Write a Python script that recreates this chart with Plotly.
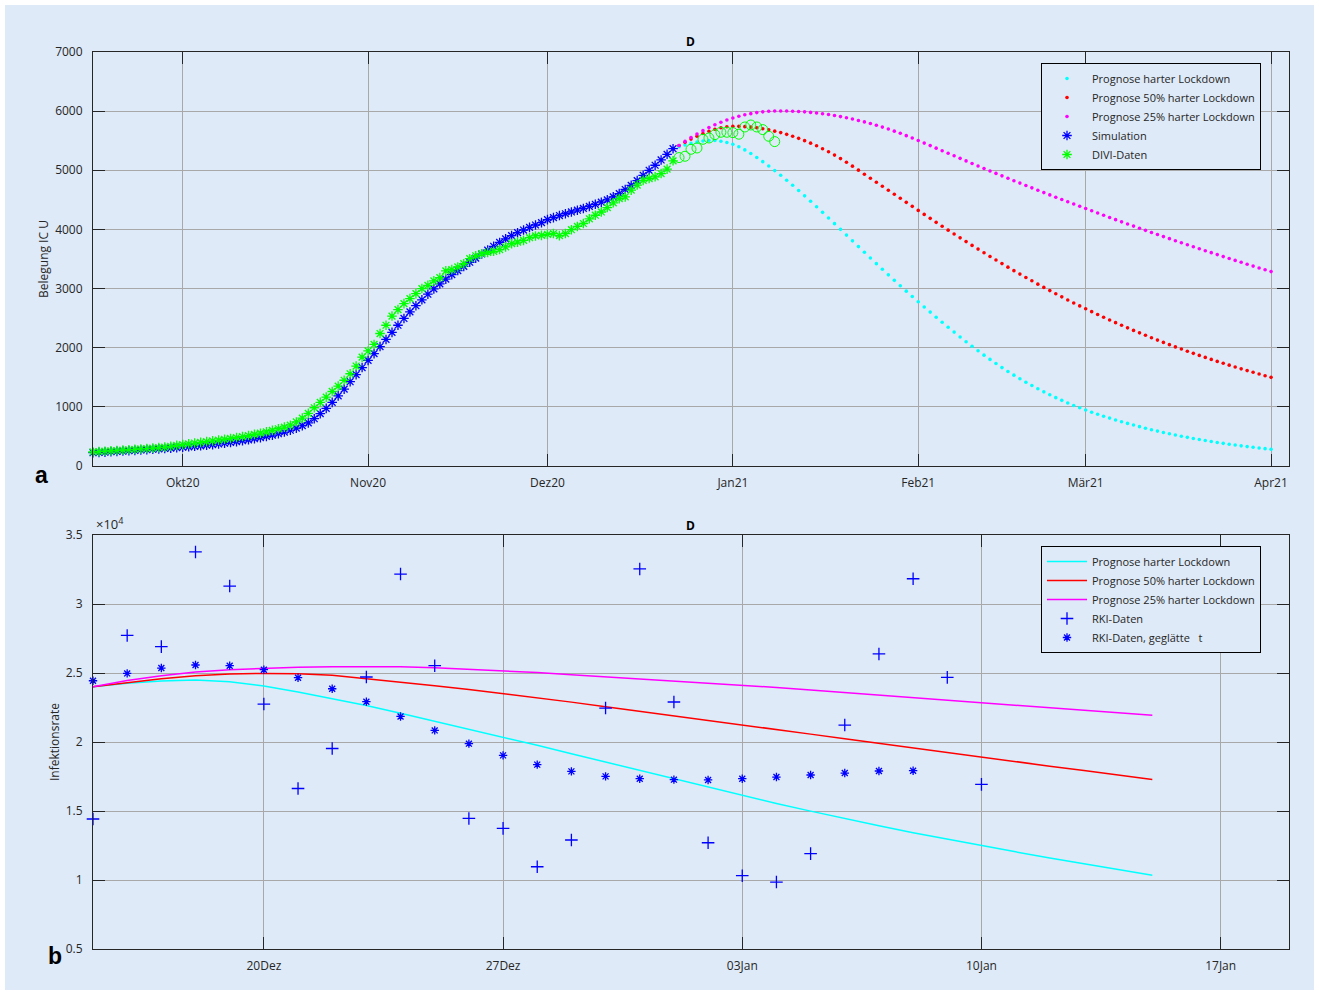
import pandas as pd
import plotly.graph_objects as go

# ---------------- panel a: ICU occupancy ----------------
SIM_START = "2020-09-16"
sim_icu = [
    225, 230, 235, 241, 247, 253, 259, 265, 271, 277, 283, 289, 296, 303, 310,
    317, 325, 333, 342, 352, 362, 373, 385, 398, 412, 427, 443, 461, 480, 500,
    522, 546, 574, 605, 640, 682, 730, 800, 885, 975, 1075, 1185, 1300, 1425, 1545, 1665,
    1785, 1900, 2020, 2140, 2260, 2380, 2495, 2605, 2710, 2810, 2905, 2995, 3080, 3160,
    3235, 3305, 3375, 3445, 3515, 3585, 3650, 3715, 3780, 3840, 3895, 3945, 3990, 4035,
    4075, 4115,
    4165, 4200, 4235, 4265, 4295, 4325, 4355, 4390, 4425, 4460, 4500, 4550, 4605, 4675,
    4745, 4825, 4915, 5000, 5085, 5175, 5270, 5365,
]
divi_icu = [
    237, 243, 250, 256, 262, 268, 275, 281, 288, 295, 302, 310, 320, 333, 348,
    362, 375, 388, 400, 412, 425, 438, 452, 466, 482, 498, 515, 534, 555, 578, 603,
    630, 658, 690, 745, 810, 890, 985, 1075, 1165, 1260, 1350, 1450, 1560, 1690, 1840,
    1945, 2055, 2240, 2380, 2535, 2645, 2745, 2830, 2915, 3000, 3055, 3130, 3185, 3300,
    3320, 3365, 3420, 3505, 3555, 3590, 3610, 3630, 3660, 3705, 3760, 3785, 3815, 3860,
    3890, 3900,
    3915, 3930, 3895, 3930, 3995, 4050, 4100, 4180, 4240, 4295, 4370, 4450, 4520, 4550,
    4665, 4750, 4830, 4860, 4890, 4945, 5020, 5160,
]
DIVI_OPEN_START = "2020-12-23"
divi_open = [5215, 5237, 5355, 5377, 5524, 5546, 5603, 5643, 5643, 5637, 5610, 5732,
             5766, 5732, 5688, 5575, 5485]

PROG_START = "2020-12-22"
prog_hard = [
    5365, 5398, 5427, 5455, 5478, 5495, 5504, 5503, 5492, 5470,
    5440, 5398, 5345, 5284, 5217, 5146, 5072, 4995, 4915, 4832, 4746, 4658, 4568, 4476,
    4383, 4289, 4194, 4098, 4001, 3904, 3807, 3710, 3613, 3517, 3421, 3326, 3232, 3139,
    3047, 2956, 2866,
    2777, 2689, 2602, 2516, 2431, 2347, 2264, 2182, 2102, 2024, 1948, 1874, 1802, 1732,
    1664, 1599, 1536, 1475, 1416, 1360, 1306, 1254, 1204, 1156, 1110, 1066, 1024, 984,
    946, 910, 875, 842, 810, 779, 749, 720, 692, 665, 639, 614, 590, 567, 545, 524, 504,
    484, 465, 447, 430, 414, 398, 383, 368, 354, 341, 328, 316, 304, 293,
    282,
]
prog_50 = [
    5365, 5420, 5475, 5527, 5577, 5622, 5661, 5694, 5719, 5736,
    5745, 5743, 5738, 5730, 5718, 5703, 5684, 5662, 5637, 5608, 5576, 5540, 5501, 5459,
    5414, 5365, 5313, 5257, 5198, 5136, 5070, 5002, 4934, 4866, 4798, 4730, 4662, 4594,
    4526, 4458, 4390,
    4322, 4254, 4187, 4120, 4054, 3988, 3923, 3858, 3794, 3730, 3667, 3605, 3543, 3482,
    3422, 3362, 3303, 3245, 3188, 3131, 3075, 3020, 2966, 2912, 2860, 2808, 2757, 2707,
    2658, 2610, 2562, 2515, 2469, 2424, 2380, 2336, 2293, 2251, 2210, 2169, 2129, 2090,
    2052, 2014, 1977, 1941, 1905, 1870, 1836, 1802, 1769, 1737, 1705, 1674, 1643, 1613,
    1584, 1555, 1527,
    1499,
]
prog_25 = [
    5365, 5420, 5488, 5553, 5613, 5670, 5722, 5769, 5812, 5850,
    5884, 5913, 5938, 5958, 5975, 5988, 5997, 6002, 6003, 6002, 5999, 5994, 5988, 5979,
    5969, 5957, 5943, 5926, 5908, 5889, 5867, 5843, 5818, 5790, 5761, 5730, 5697, 5662,
    5625, 5586, 5545,
    5503, 5460, 5417, 5374, 5331, 5288, 5245, 5202, 5159, 5116, 5073, 5031, 4989, 4947,
    4906, 4865, 4824, 4783, 4743, 4703, 4663, 4623, 4584, 4545, 4506, 4467, 4429, 4391,
    4353, 4315, 4277, 4239, 4202, 4165, 4128, 4092, 4056, 4020, 3984, 3949, 3914, 3879,
    3844, 3809, 3775, 3741, 3707, 3673, 3640, 3607, 3574, 3541, 3508, 3476, 3444, 3412,
    3380, 3349, 3318,
    3287,
]
top_x_range = ["2020-09-16", "2021-04-04"]
top_tick_dates = ["2020-10-01", "2020-11-01", "2020-12-01", "2021-01-01",
                  "2021-02-01", "2021-03-01", "2021-04-01"]
top_tick_labels = ["Okt20", "Nov20", "Dez20", "Jan21", "Feb21", "Mär21", "Apr21"]
top_y_ticks = [0, 1000, 2000, 3000, 4000, 5000, 6000, 7000]

# ---------------- panel b: infection rate ----------------
RKI_START = "2020-12-15"
rki_raw = [14420, 27720, 26910, 33770, 31300, 22750, 16630, 19530, 24710, 32170,
           25530, 14460, 13740, 10960, 12900, 22460, 32540, 22900, 12700, 10310,
           9850, 11910, 21230, 26380, 31830, 24680, 16930]
rki_smooth = [24440, 24970, 25360, 25580, 25530, 25240, 24660, 23860, 22920, 21850,
              20840, 19880, 19030, 18360, 17870, 17510, 17340, 17270, 17250, 17340,
              17460, 17610, 17750, 17900, 17920]
INF_START = "2020-12-15"
inf_hard = [24000, 24250, 24420, 24490, 24370, 24060, 23620, 23150, 22650, 22090,
            21520, 20940, 20360, 19760, 19150, 18540, 17930, 17320, 16710, 16110,
            15540, 14990, 14450, 13930, 13430, 12950, 12490, 12040, 11600, 11170,
            10750, 10340]
inf_50 = [24000, 24320, 24590, 24800, 24920, 24970, 24940, 24840, 24600, 24350,
          24080, 23800, 23500, 23220, 22890, 22560, 22220, 21890, 21560, 21230,
          20900, 20570, 20240, 19900, 19570, 19240, 18910, 18580, 18250, 17930,
          17610, 17290]
inf_25 = [24000, 24450, 24800, 25070, 25240, 25350, 25420, 25460, 25480, 25460,
          25380, 25280, 25170, 25030, 24880, 24730, 24580, 24430, 24280, 24130,
          23950, 23770, 23590, 23410, 23230, 23050, 22870, 22680, 22490, 22300,
          22110, 21930]
bot_x_range = ["2020-12-15", "2021-01-19"]
bot_tick_dates = ["2020-12-20", "2020-12-27", "2021-01-03", "2021-01-10", "2021-01-17"]
bot_tick_labels = ["20Dez", "27Dez", "03Jan", "10Jan", "17Jan"]
bot_y_ticks = [5000, 10000, 15000, 20000, 25000, 30000, 35000]
bot_y_labels = ["0.5", "1", "1.5", "2", "2.5", "3", "3.5"]


def days(start, n):
    return pd.date_range(start, periods=n, freq="D")


# ---------------- geometry / style ----------------
W, H = 1319, 995
ML, MR, MT, MB = 93, 30, 52, 46
PW, PH = W - ML - MR, H - MT - MB
BG = "#deeaf7"
GRID = "#a8a8a8"
AXC = "#262626"
FONT = "Open Sans"
CYAN, RED, MAG, BLUE, GREEN = "#00ffff", "#ff0000", "#ff00ff", "#0000ff", "#00ff00"


def px(x):
    return (x - ML) / PW


def py(y):
    return (H - MB - y) / PH


top_dom = [py(466), 1.0]
bot_dom = [0.0, py(535)]

fig = go.Figure()

# panel a traces
fig.add_trace(go.Scatter(x=days(PROG_START, len(prog_hard)), y=prog_hard, mode="markers",
                         marker=dict(color=CYAN, size=3.6), name="Prognose harter Lockdown",
                         xaxis="x", yaxis="y", legend="legend"))
fig.add_trace(go.Scatter(x=days(PROG_START, len(prog_50)), y=prog_50, mode="markers",
                         marker=dict(color=RED, size=3.6), name="Prognose 50% harter Lockdown",
                         xaxis="x", yaxis="y", legend="legend"))
fig.add_trace(go.Scatter(x=days(PROG_START, len(prog_25)), y=prog_25, mode="markers",
                         marker=dict(color=MAG, size=3.6), name="Prognose 25% harter Lockdown",
                         xaxis="x", yaxis="y", legend="legend"))
fig.add_trace(go.Scatter(x=days(SIM_START, len(sim_icu)), y=sim_icu, mode="markers",
                         marker=dict(symbol="asterisk-open", color=BLUE, size=8,
                                     line=dict(color=BLUE, width=1.3)),
                         name="Simulation", xaxis="x", yaxis="y", legend="legend",
                         cliponaxis=False))
fig.add_trace(go.Scatter(x=days(SIM_START, len(divi_icu)), y=divi_icu, mode="markers",
                         marker=dict(symbol="asterisk-open", color=GREEN, size=8,
                                     line=dict(color=GREEN, width=1.3)),
                         name="DIVI-Daten", xaxis="x", yaxis="y", legend="legend",
                         cliponaxis=False))
fig.add_trace(go.Scatter(x=days(DIVI_OPEN_START, len(divi_open)), y=divi_open, mode="markers",
                         marker=dict(symbol="circle-open", color=GREEN, size=10,
                                     line=dict(color=GREEN, width=1)),
                         name="DIVI-Daten (offen)", showlegend=False, xaxis="x", yaxis="y"))

# panel b traces
fig.add_trace(go.Scatter(x=days(INF_START, len(inf_hard)), y=inf_hard, mode="lines",
                         line=dict(color=CYAN, width=1.5), name="Prognose harter Lockdown",
                         xaxis="x2", yaxis="y2", legend="legend2"))
fig.add_trace(go.Scatter(x=days(INF_START, len(inf_50)), y=inf_50, mode="lines",
                         line=dict(color=RED, width=1.5), name="Prognose 50% harter Lockdown",
                         xaxis="x2", yaxis="y2", legend="legend2"))
fig.add_trace(go.Scatter(x=days(INF_START, len(inf_25)), y=inf_25, mode="lines",
                         line=dict(color=MAG, width=1.5), name="Prognose 25% harter Lockdown",
                         xaxis="x2", yaxis="y2", legend="legend2"))
fig.add_trace(go.Scatter(x=days(RKI_START, len(rki_raw)), y=rki_raw, mode="markers",
                         marker=dict(symbol="cross-thin-open", color=BLUE, size=9,
                                     line=dict(color=BLUE, width=1.3)),
                         name="RKI-Daten", xaxis="x2", yaxis="y2", legend="legend2",
                         cliponaxis=False))
fig.add_trace(go.Scatter(x=days(RKI_START, len(rki_smooth)), y=rki_smooth, mode="markers",
                         marker=dict(symbol="asterisk-open", color=BLUE, size=7,
                                     line=dict(color=BLUE, width=1.3)),
                         name="RKI-Daten, geglätte\u00a0\u00a0\u00a0t", xaxis="x2", yaxis="y2",
                         legend="legend2", cliponaxis=False))

axis_common = dict(showline=True, linecolor=AXC, linewidth=1, mirror="ticks",
                   ticks="inside", ticklen=12, tickwidth=1, tickcolor=AXC,
                   showgrid=True, gridcolor=GRID, gridwidth=1, zeroline=False,
                   tickfont=dict(family=FONT, size=12, color=AXC))

legend_common = dict(bgcolor=BG, bordercolor="#000000", borderwidth=1,
                     font=dict(family=FONT, size=11, color=AXC), itemwidth=40,
                     xanchor="left", yanchor="top", tracegroupgap=0)


def label(text, x, y, size=12, angle=0, family=FONT, color=AXC, **kw):
    return dict(text=text, xref="paper", yref="paper", x=px(x), y=py(y),
                xanchor="center", yanchor="middle", textangle=angle, showarrow=False,
                font=dict(family=family, size=size, color=color), **kw)


fig.update_layout(
    width=W, height=H,
    margin=dict(l=ML, r=MR, t=MT, b=MB),
    paper_bgcolor="white", plot_bgcolor="rgba(0,0,0,0)",
    font=dict(family=FONT, size=12, color=AXC),
    xaxis=dict(axis_common, domain=[0, 1], anchor="y", type="date", range=top_x_range,
               tickvals=top_tick_dates, ticktext=top_tick_labels, ticklabelstandoff=6),
    yaxis=dict(axis_common, domain=top_dom, anchor="x", range=[0, 7000],
               tickvals=top_y_ticks, ticktext=[str(v) for v in top_y_ticks],
               ticklabelstandoff=7),
    xaxis2=dict(axis_common, domain=[0, 1], anchor="y2", type="date", range=bot_x_range,
                tickvals=bot_tick_dates, ticktext=bot_tick_labels, ticklabelstandoff=6),
    yaxis2=dict(axis_common, domain=bot_dom, anchor="x2", range=[5000, 35000],
                tickvals=bot_y_ticks, ticktext=bot_y_labels, ticklabelstandoff=7),
    legend=dict(legend_common, x=px(1041), y=py(63)),
    legend2=dict(legend_common, x=px(1041), y=py(546)),
    shapes=[dict(type="rect", xref="paper", yref="paper", layer="below",
                 x0=px(5), x1=px(1314), y0=py(990), y1=py(5),
                 fillcolor=BG, line=dict(width=0))],
    annotations=[
        label("<b>D</b>", 690, 41, color="#000000"),
        label("<b>D</b>", 690, 525, color="#000000"),
        label("Belegung IC U", 43, 259, angle=-90),
        label("Infektionsrate", 55, 742, angle=-90),
        dict(text="×10<sup>4</sup>", xref="paper", yref="paper", x=px(94), y=bot_dom[1],
             xanchor="left", yanchor="bottom", yshift=0, showarrow=False,
             font=dict(family=FONT, size=13, color=AXC)),
        label("<b>a</b>", 41, 475, size=23, family="Liberation Sans", color="#000000"),
        label("<b>b</b>", 55, 956, size=23, family="Liberation Sans", color="#000000"),
    ],
)

fig.write_html("out.html")
